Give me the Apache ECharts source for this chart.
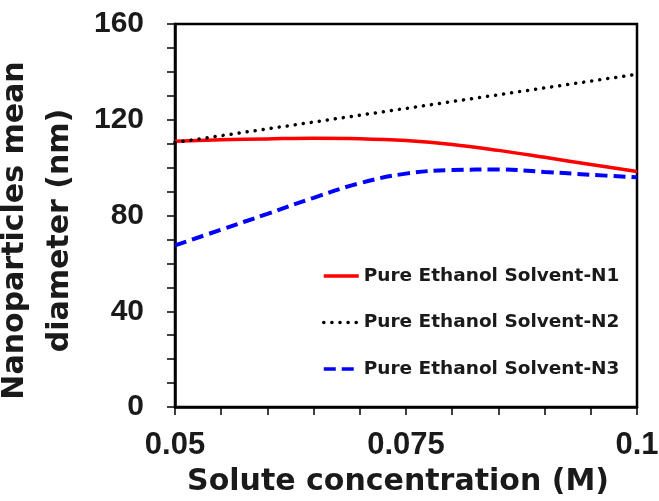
<!DOCTYPE html>
<html>
<head>
<meta charset="utf-8">
<script src="https://cdn.jsdelivr.net/npm/echarts@6/dist/echarts.min.js"></script>
<style>html,body{margin:0;padding:0;background:#fff;}#c{width:659px;height:501px;}</style>
</head>
<body>
<div id="c"></div>
<script>
var xValues = [0.05, 0.055, 0.06, 0.065, 0.07, 0.075, 0.08, 0.085, 0.09, 0.095, 0.1];
var n1 = [111, 111.6, 112, 112.3, 112.1, 111.3, 109.7, 107.2, 104.3, 101.3, 98.4];
var n2X = [0.05, 0.1];
var n2 = [110.5, 139];
var n3 = [67.5, 74.1, 80.7, 87.4, 93.5, 97.5, 99.0, 99.2, 98.2, 97.0, 96.0];
var seriesNames = ['Pure Ethanol Solvent-N1', 'Pure Ethanol Solvent-N2', 'Pure Ethanol Solvent-N3'];
var xTitle = 'Solute concentration (M)';
var yTitle = 'Nanoparticles mean\ndiameter (nm)';

function pairs(xs, ys) { return xs.map(function (x, i) { return [x, ys[i]]; }); }

var chart = echarts.init(document.getElementById('c'));
chart.setOption({
  animation: false,
  backgroundColor: '#fff',
  grid: { left: 175, right: 22, top: 24, bottom: 94, containLabel: false, outerBoundsMode: 'none',
    show: true, borderColor: '#000', borderWidth: 2.5, backgroundColor: 'transparent' },
  legend: {
    left: 322, top: 266, orient: 'vertical', padding: 0,
    itemWidth: 35, itemHeight: 14, itemGap: 26.5,
    itemStyle: { opacity: 0 },
    lineStyle: { width: 3.5 },
    textStyle: { fontFamily: 'DejaVu Sans', fontWeight: 'bold', fontSize: 18.5, color: '#1a1a1a', lineHeight: 20 },
    data: seriesNames
  },
  xAxis: {
    type: 'value', min: 0.05, max: 0.1, interval: 0.025,
    name: xTitle, nameLocation: 'middle', nameGap: 58,
    nameTextStyle: { fontFamily: 'DejaVu Sans', fontWeight: 'bold', fontSize: 30, color: '#1a1a1a', lineHeight: 33, padding: [0, 16, 0, 0] },
    axisLine: { lineStyle: { color: '#000', width: 2.5 } },
    axisTick: { show: true, inside: false, length: 8, lineStyle: { color: '#000', width: 1.5 } },
    minorTick: { show: true, splitNumber: 5, length: 8, lineStyle: { color: '#000', width: 1.5 } },
    splitLine: { show: false },
    axisLabel: { fontFamily: 'Liberation Sans', fontWeight: 'bold', fontSize: 31, color: '#1a1a1a', margin: 23, lineHeight: 30,
      formatter: function (v) { return String(+v.toFixed(3)); } }
  },
  yAxis: {
    type: 'value', min: 0, max: 160, interval: 40,
    name: yTitle, nameLocation: 'middle', nameGap: 78, nameRotate: 90,
    nameTextStyle: { fontFamily: 'DejaVu Sans', fontWeight: 'bold', fontSize: 30, color: '#1a1a1a', lineHeight: 45, padding: [0, 30, 0, 0] },
    axisLine: { show: true, lineStyle: { color: '#000', width: 2.5 } },
    axisTick: { show: true, inside: false, length: 8, lineStyle: { color: '#000', width: 1.5 } },
    minorTick: { show: true, splitNumber: 4, length: 8, lineStyle: { color: '#000', width: 1.5 } },
    splitLine: { show: false },
    axisLabel: { fontFamily: 'Liberation Sans', fontWeight: 'bold', fontSize: 30, color: '#1a1a1a', margin: 31 }
  },
  series: [
    { name: seriesNames[0], type: 'line', data: pairs(xValues, n1), smooth: 0.4, symbol: 'none',
      lineStyle: { color: '#ff0000', width: 3.5 }, itemStyle: { color: '#ff0000' } },
    { name: seriesNames[1], type: 'line', data: pairs(n2X, n2), symbol: 'none',
      lineStyle: { color: '#000', width: 3.5, type: [0.1, 8], cap: 'round' }, itemStyle: { color: '#000' } },
    { name: seriesNames[2], type: 'line', data: pairs(xValues, n3), smooth: 0.4, symbol: 'none',
      lineStyle: { color: '#0000ff', width: 4, type: [12, 6] }, itemStyle: { color: '#0000ff' } }
  ]
});
</script>
</body>
</html>
